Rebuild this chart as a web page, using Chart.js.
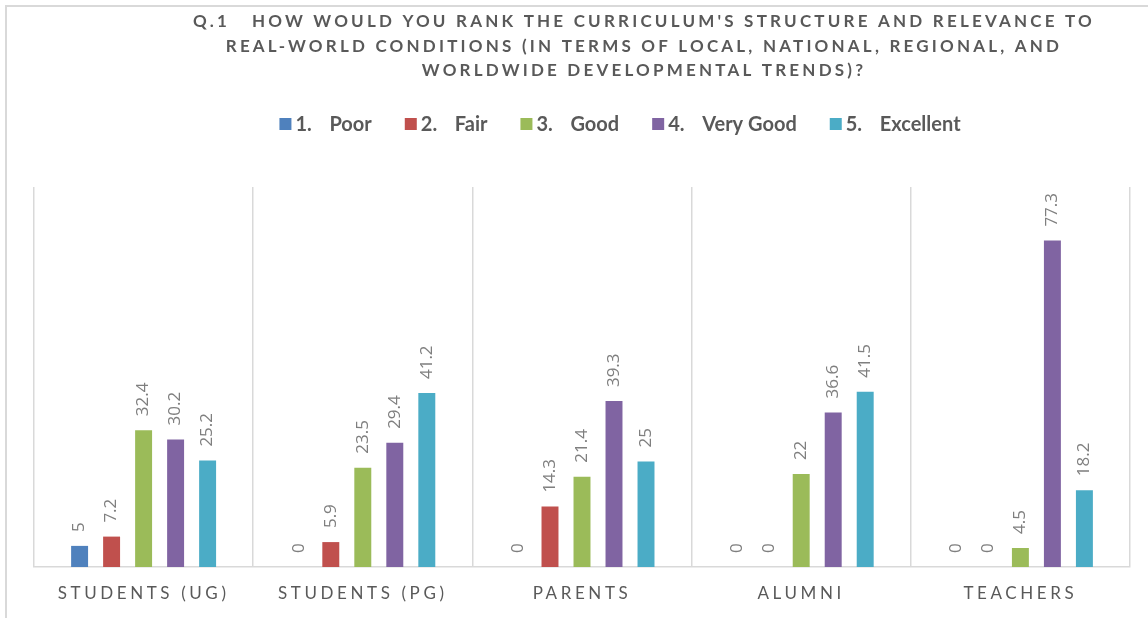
<!DOCTYPE html>
<html>
<head>
<meta charset="utf-8">
<script src="https://cdn.jsdelivr.net/npm/chart.js@4"></script>
<style>
  html, body { margin: 0; padding: 0; background: #fff; }
  #wrap { width: 1148px; height: 618px; }
</style>
</head>
<body>
<div id="wrap"><canvas id="rankChart" width="1148" height="618"></canvas></div>
<script>
// respondent groups and percentage per rating
const groups = ["STUDENTS (UG)", "STUDENTS (PG)", "PARENTS", "ALUMNI", "TEACHERS"];
const ratingLabels = ["1. Poor", "2. Fair", "3. Good", "4. Very Good", "5. Excellent"];
const poor = [5, 0, 0, 0, 0];
const fair = [7.2, 5.9, 14.3, 0, 0];
const good = [32.4, 23.5, 21.4, 22, 4.5];
const veryGood = [30.2, 29.4, 39.3, 36.6, 77.3];
const excellent = [25.2, 41.2, 25, 41.5, 18.2];
const titleLines = [
  "Q.1   HOW WOULD YOU RANK THE CURRICULUM'S STRUCTURE AND RELEVANCE TO",
  "REAL-WORLD CONDITIONS (IN TERMS OF LOCAL, NATIONAL, REGIONAL, AND",
  "WORLDWIDE DEVELOPMENTAL TRENDS)?"
];

const colors = ["#4f81bd", "#c0504d", "#9bbb59", "#8064a2", "#4bacc6"];
const TEXT = "#595959";
const GRID = "#d9d9d9";

// thin frame on the top and left edges
const framePlugin = {
  id: "frame",
  beforeDraw(chart) {
    const ctx = chart.ctx;
    ctx.save();
    ctx.strokeStyle = GRID;
    ctx.lineWidth = 2;
    ctx.beginPath();
    ctx.moveTo(6, chart.height);
    ctx.lineTo(6, 6);
    ctx.lineTo(chart.width, 6);
    ctx.stroke();
    ctx.restore();
  }
};

// letter-spaced bold title
const titlePlugin = {
  id: "spacedTitle",
  afterDraw(chart) {
    const ctx = chart.ctx;
    ctx.save();
    ctx.font = "bold 17px Lato";
    ctx.letterSpacing = "3.2px";
    ctx.fillStyle = TEXT;
    ctx.textAlign = "center";
    ctx.textBaseline = "middle";
    titleLines.forEach((line, i) => ctx.fillText(line, 644, 22 + i * 24.5));
    ctx.restore();
  }
};

// legend row: square, number, name
const legendPlugin = {
  id: "legendRow",
  afterDraw(chart) {
    const ctx = chart.ctx;
    ctx.save();
    ctx.font = "bold 20px Lato";
    ctx.textBaseline = "middle";
    const items = chart.data.datasets.map(ds => {
      const sp = ds.label.indexOf(" ");
      const num = ds.label.slice(0, sp);
      const name = ds.label.slice(sp + 1);
      return { num, name, color: ds.backgroundColor, w: 50 + ctx.measureText(name).width };
    });
    const gap = 33;
    const total = items.reduce((s, it) => s + it.w, 0) + gap * (items.length - 1);
    let x = 620 - total / 2;
    const y = 124;
    items.forEach(it => {
      ctx.fillStyle = it.color;
      ctx.fillRect(x, y - 6, 12, 12);
      ctx.fillStyle = TEXT;
      ctx.fillText(it.num, x + 16, y + 1);
      ctx.fillText(it.name, x + 50, y + 1);
      x += it.w + gap;
    });
    ctx.restore();
  }
};

// category names under the axis
const axisLabelPlugin = {
  id: "axisLabels",
  afterDraw(chart) {
    const ctx = chart.ctx;
    const xs = chart.scales.x;
    ctx.save();
    ctx.font = "17px Lato";
    ctx.letterSpacing = "3.6px";
    ctx.fillStyle = TEXT;
    ctx.textAlign = "center";
    ctx.textBaseline = "middle";
    chart.data.labels.forEach((lab, i) => {
      ctx.fillText(lab, xs.getPixelForValue(i), 594);
    });
    ctx.restore();
  }
};

// rotated value labels above each bar
const valueLabelPlugin = {
  id: "valueLabels",
  afterDatasetsDraw(chart) {
    const ctx = chart.ctx;
    ctx.save();
    ctx.font = "17px 'Open Sans'";
    ctx.fillStyle = "#7f7f7f";
    ctx.textAlign = "left";
    ctx.textBaseline = "middle";
    chart.data.datasets.forEach((ds, di) => {
      chart.getDatasetMeta(di).data.forEach((bar, i) => {
        ctx.save();
        ctx.translate(bar.x, bar.y - 14);
        ctx.rotate(-Math.PI / 2);
        ctx.fillText(String(ds.data[i]), 0, 0);
        ctx.restore();
      });
    });
    ctx.restore();
  }
};

const series = [poor, fair, good, veryGood, excellent];

new Chart(document.getElementById("rankChart"), {
  type: "bar",
  data: {
    labels: groups,
    datasets: series.map((vals, i) => ({
      label: ratingLabels[i],
      data: vals,
      backgroundColor: colors[i],
      categoryPercentage: 0.73,
      barPercentage: 0.53
    }))
  },
  options: {
    responsive: false,
    animation: false,
    layout: { padding: { left: 34, right: 18, top: 187, bottom: 51 } },
    plugins: {
      legend: { display: false },
      title: { display: false },
      tooltip: { enabled: false }
    },
    scales: {
      x: {
        grid: { offset: true, color: GRID, lineWidth: 1.5, drawTicks: false },
        border: { color: GRID, width: 1.5 },
        ticks: { display: false }
      },
      y: { display: false, min: 0, max: 90 }
    }
  },
  plugins: [framePlugin, titlePlugin, legendPlugin, axisLabelPlugin, valueLabelPlugin]
});
</script>
</body>
</html>
